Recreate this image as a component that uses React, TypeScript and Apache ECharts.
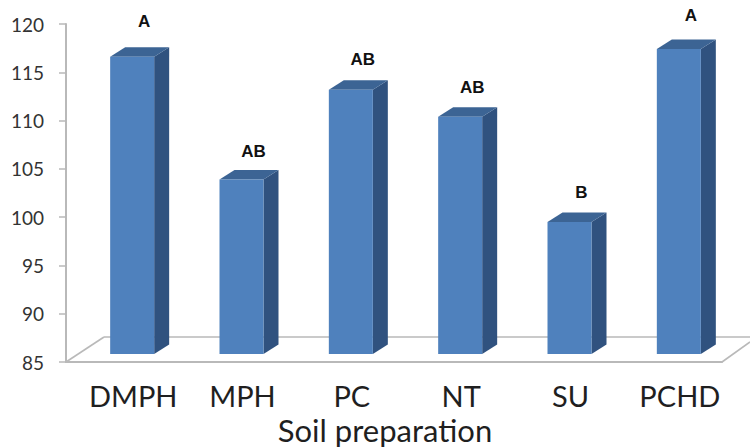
import React, { useEffect, useRef } from "react";
import * as echarts from "echarts";

const categories = ["DMPH", "MPH", "PC", "NT", "SU", "PCHD"];
const values = [116.6, 103.9, 113.2, 110.4, 99.5, 117.4];
const letters = ["A", "AB", "AB", "AB", "B", "A"];
const letterLevels = [120.3, 106.8, 116.3, 113.4, 102.6, 120.9];
const yTicksMin = 85;
const yTicksMax = 120;
const yTickStep = 5;

const FONT = "Lato, 'Open Sans', sans-serif";
const AXIS = "#b9b9b9";
const DX = 15;
const DY = 9.5;
const BAR_W = 44;
const BAR_SHIFT = 11.5;
const BASE_LIFT = 8;

export default function App() {
  const ref = useRef<HTMLDivElement>(null);
  useEffect(() => {
    document.body.style.margin = "0";
    const chart = echarts.init(ref.current!, undefined, { renderer: "svg" });
    chart.setOption({
      animation: false,
      backgroundColor: "#ffffff",
      grid: { left: 66, right: 28, top: 24, bottom: 86, outerBoundsMode: "none" },
      xAxis: {
        type: "category",
        data: categories,
        boundaryGap: true,
        axisLine: { lineStyle: { color: AXIS, width: 2 } },
        axisTick: { length: 6, lineStyle: { color: AXIS, width: 1.5 } },
        axisLabel: {
          fontFamily: FONT,
          fontSize: 29,
          color: "#1f1f1f",
          margin: 19,
          padding: [0, 0, 0, 25],
          interval: 0,
          hideOverlap: false,
        },
        name: "Soil preparation",
        nameLocation: "middle",
        nameGap: 51,
        nameTextStyle: { fontFamily: FONT, fontSize: 31, color: "#1f1f1f", padding: [0, 18, 0, 0] },
      },
      yAxis: {
        type: "value",
        min: yTicksMin,
        max: yTicksMax,
        interval: yTickStep,
        splitLine: { show: false },
        axisLine: { show: true, lineStyle: { color: AXIS, width: 2 } },
        axisTick: { show: true, length: 7, lineStyle: { color: AXIS, width: 1.5 } },
        axisLabel: { fontFamily: FONT, fontSize: 19, color: "#333333", margin: 22, hideOverlap: false },
      },
      series: [
        {
          type: "custom",
          silent: true,
          z: 1,
          data: [[0, yTicksMin]],
          renderItem: (_p: any, api: any) => {
            const [x0, y0] = api.coord([0, yTicksMin]);
            const gx0 = x0 - (api.size([1, 0])[0] as number) / 2;
            const gx1 = gx0 + (api.size([1, 0])[0] as number) * categories.length;
            const style = { stroke: AXIS, lineWidth: 1.6, fill: "none" };
            const line = (a: number, b: number, c: number, d: number) => ({
              type: "line",
              shape: { x1: a, y1: b, x2: c, y2: d },
              style,
            });
            return {
              type: "group",
              children: [
                line(gx0, y0, gx0 + 38, y0 - 25),
                line(gx0 + 38, y0 - 25, 750, y0 - 25),
                line(gx1, y0, gx1 + 28, y0 - 20),
              ],
            };
          },
        },
        {
          type: "custom",
          silent: true,
          z: 2,
          encode: { x: 0, y: 1 },
          data: values.map((v, i) => [i, v]),
          renderItem: (_p: any, api: any) => {
            const [cx, yTop] = api.coord([api.value(0), api.value(1)]);
            const yBase = api.coord([api.value(0), yTicksMin])[1] - BASE_LIFT;
            const l = cx + BAR_SHIFT - BAR_W / 2;
            const r = l + BAR_W;
            return {
              type: "group",
              children: [
                {
                  type: "polygon",
                  shape: { points: [[r, yTop], [r + DX, yTop - DY], [r + DX, yBase - DY], [r, yBase]] },
                  style: { fill: "#30527f" },
                },
                {
                  type: "polygon",
                  shape: { points: [[l, yTop], [l + DX, yTop - DY], [r + DX, yTop - DY], [r, yTop]] },
                  style: { fill: "#3c6494" },
                },
                {
                  type: "rect",
                  shape: { x: l, y: yTop, width: BAR_W, height: yBase - yTop },
                  style: { fill: "#4f81bd" },
                },
              ],
            };
          },
        },
        {
          type: "custom",
          silent: true,
          z: 3,
          data: letterLevels.map((v, i) => [i, v]),
          renderItem: (_p: any, api: any) => {
            const i = api.value(0);
            const [cx, y] = api.coord([i, api.value(1)]);
            return {
              type: "text",
              style: {
                x: cx + BAR_SHIFT + 12,
                y,
                text: letters[i],
                align: "center",
                verticalAlign: "middle",
                font: "bold 17px 'Liberation Sans', sans-serif",
                fill: "#111111",
              },
            };
          },
        },
      ],
    });
    return () => chart.dispose();
  }, []);
  return <div ref={ref} style={{ width: 750, height: 448 }} />;
}
